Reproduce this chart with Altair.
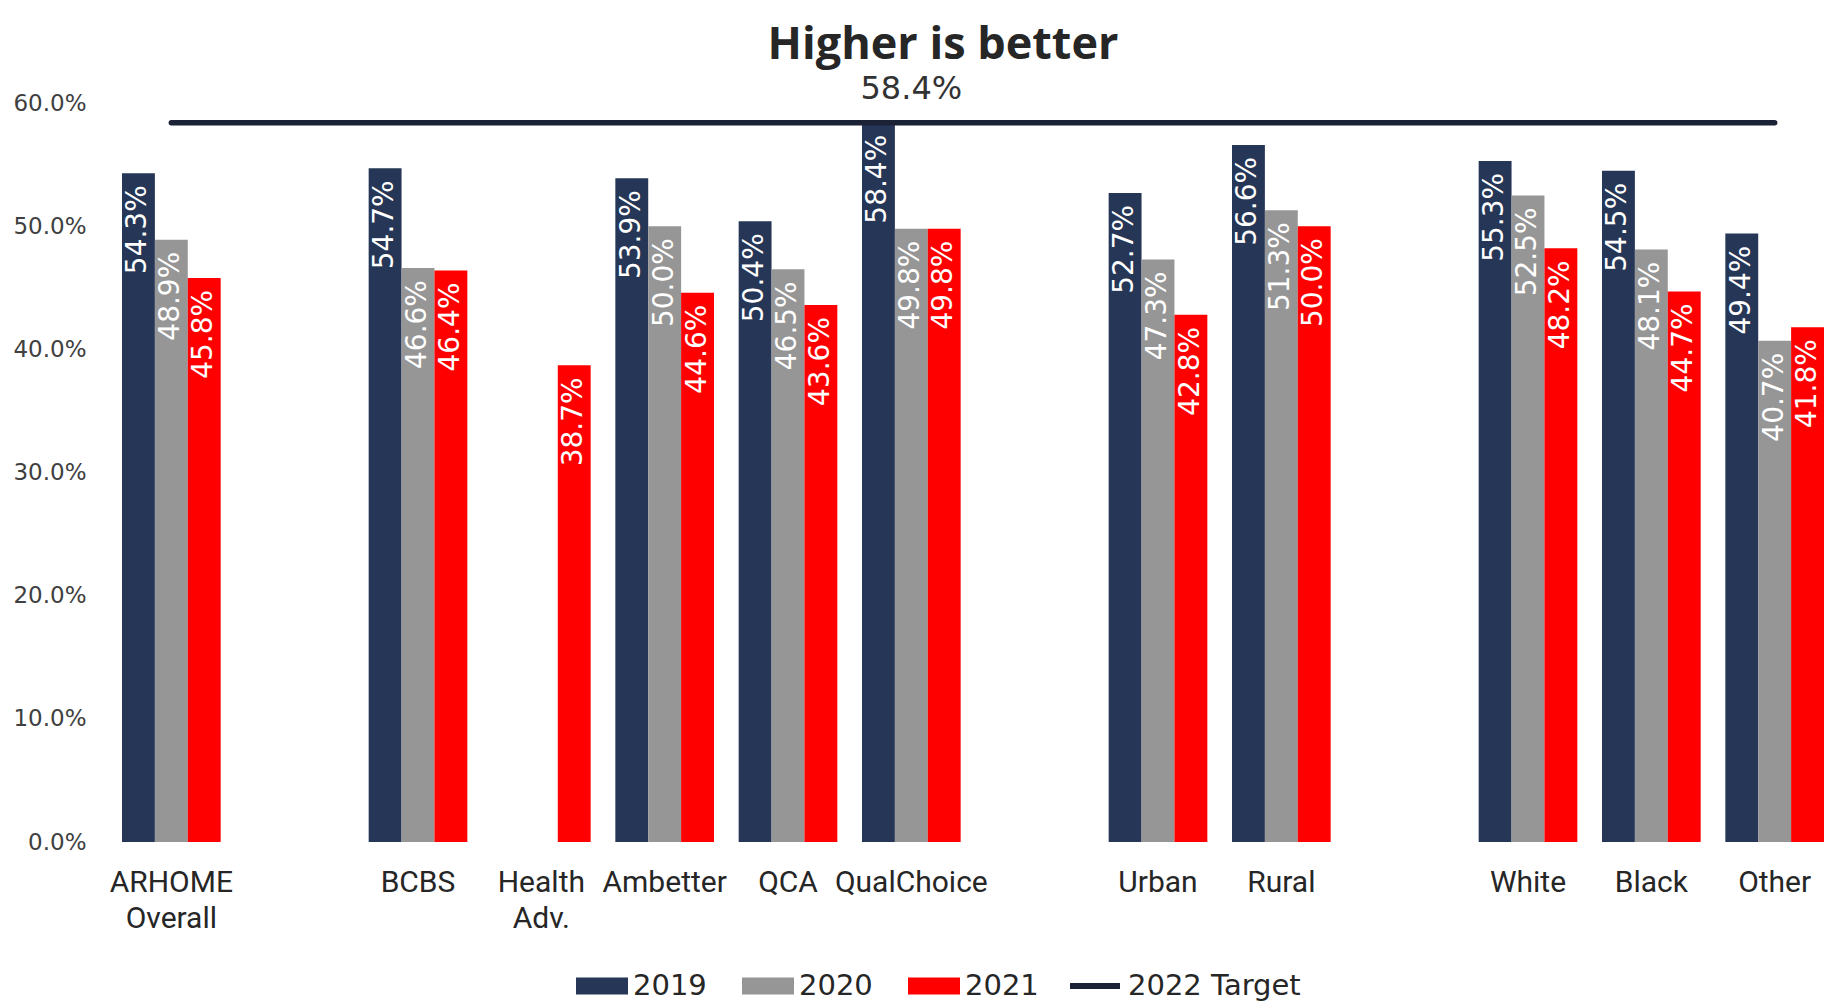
import altair as alt
import pandas as pd

# ---- data ----
categories = ["ARHOME|Overall", "_gap1", "BCBS", "Health|Adv.", "Ambetter", "QCA",
              "QualChoice", "_gap2", "Urban", "Rural", "_gap3", "White", "Black", "Other"]
groups = ["ARHOME|Overall", "BCBS", "Health|Adv.", "Ambetter", "QCA", "QualChoice",
          "Urban", "Rural", "White", "Black", "Other"]
years = ["2019", "2020", "2021"]
v2019 = [54.3, 54.7, None, 53.9, 50.4, 58.4, 52.7, 56.6, 55.3, 54.5, 49.4]
v2020 = [48.9, 46.6, None, 50.0, 46.5, 49.8, 47.3, 51.3, 52.5, 48.1, 40.7]
v2021 = [45.8, 46.4, 38.7, 44.6, 43.6, 49.8, 42.8, 50.0, 48.2, 44.7, 41.8]
target_value = 58.4
target_name = "2022 Target"
target_span = ["ARHOME|Overall", "Other"]
target_label_at = "QualChoice"
y_ticks = [0, 0.1, 0.2, 0.3, 0.4, 0.5, 0.6]

bar_colors = ["#263656", "#969696", "#ff0000"]
target_color = "#1b2236"

rows = []
for yr, vals in zip(years, [v2019, v2020, v2021]):
    for g, v in zip(groups, vals):
        if v is not None:
            rows.append({"cat": g, "series": yr, "val": v / 100.0})
bars_df = pd.DataFrame(rows)
line_df = pd.DataFrame({"cat": target_span, "series": [target_name] * 2,
                        "val": [target_value / 100.0] * 2})
tlabel_df = pd.DataFrame({"cat": [target_label_at], "val": [target_value / 100.0],
                          "txt": [f"{target_value:.1f}%"]})

x_scale = alt.Scale(domain=categories, paddingInner=0.2, paddingOuter=0)
y_scale = alt.Scale(domain=[0, 0.6], nice=False)
off_scale = alt.Scale(domain=years, paddingInner=0, paddingOuter=0)

x_enc = alt.X("cat:N", scale=x_scale, title=None, sort=categories,
              axis=alt.Axis(labelAngle=0, domain=False, ticks=False, grid=False,
                            labelFont="Roboto", labelFontSize=30,
                            labelColor="#262626", labelPadding=25, labelLineHeight=36,
                            labelLimit=300,
                            labelExpr="indexof(datum.value, '_') == 0 ? '' : split(datum.value, '|')"))
y_enc = alt.Y("val:Q", scale=y_scale, title=None,
              axis=alt.Axis(values=y_ticks, format=".1%", domain=False, ticks=False, grid=False,
                            labelFont="DejaVu Sans", labelFontSize=23,
                            labelColor="#404040", labelPadding=36))

fill_legend = alt.Legend(
    title=None, orient="none", direction="horizontal", legendX=454, legendY=857,
    symbolType="M-1,-0.33H1V0.33H-1Z", symbolSize=2704, symbolStrokeWidth=0,
    symbolOpacity=1,
    labelFont="DejaVu Sans", labelFontSize=29, labelColor="#262626",
    labelOffset=5, columnPadding=35, labelLimit=400,
)
stroke_legend = alt.Legend(
    title=None, orient="none", direction="horizontal", legendX=945, legendY=855,
    symbolType="stroke", symbolSize=2500, symbolStrokeWidth=6, symbolOpacity=1,
    labelFont="DejaVu Sans", labelFontSize=29, labelColor="#262626",
    labelOffset=5, labelLimit=400,
)

bars = alt.Chart(bars_df).mark_bar(opacity=1).encode(
    x=x_enc,
    xOffset=alt.XOffset("series:N", scale=off_scale),
    y=y_enc,
    fill=alt.Fill("series:N", scale=alt.Scale(domain=years, range=bar_colors),
                  legend=fill_legend),
)

labels = alt.Chart(bars_df).mark_text(
    angle=270, align="right", baseline="middle", dx=-12, color="white",
    font="DejaVu Sans", fontSize=28
).encode(
    x=alt.X("cat:N", scale=x_scale, sort=categories),
    xOffset=alt.XOffset("series:N", scale=off_scale),
    y=alt.Y("val:Q", scale=y_scale),
    text=alt.Text("val:Q", format=".1%"),
)

target_line = alt.Chart(line_df).mark_line(strokeWidth=5.5, strokeCap="round").encode(
    x=alt.X("cat:N", scale=x_scale, sort=categories),
    y=alt.Y("val:Q", scale=y_scale),
    stroke=alt.Stroke("series:N", scale=alt.Scale(domain=[target_name], range=[target_color]),
                      legend=stroke_legend),
)

target_text = alt.Chart(tlabel_df).mark_text(
    baseline="middle", align="center", dy=-34, font="DejaVu Sans", fontSize=32,
    color="#333333"
).encode(
    x=alt.X("cat:N", scale=x_scale, sort=categories),
    y=alt.Y("val:Q", scale=y_scale),
    text="txt:N",
)

chart = alt.layer(bars, labels, target_line, target_text).properties(
    width=1702, height=739,
    title=alt.Title("Higher is better", font="Open Sans", fontSize=45, fontWeight="bold",
                    color="#262626", frame="group", baseline="alphabetic",
                    anchor="middle", offset=0, dx=-30, dy=31),
    padding={"left": 114, "top": 95, "right": 2, "bottom": 160},
    autosize=alt.AutoSizeParams(type="none"),
).configure_view(stroke=None)

chart.save("out.html", embed_options={"renderer": "svg", "actions": False})
